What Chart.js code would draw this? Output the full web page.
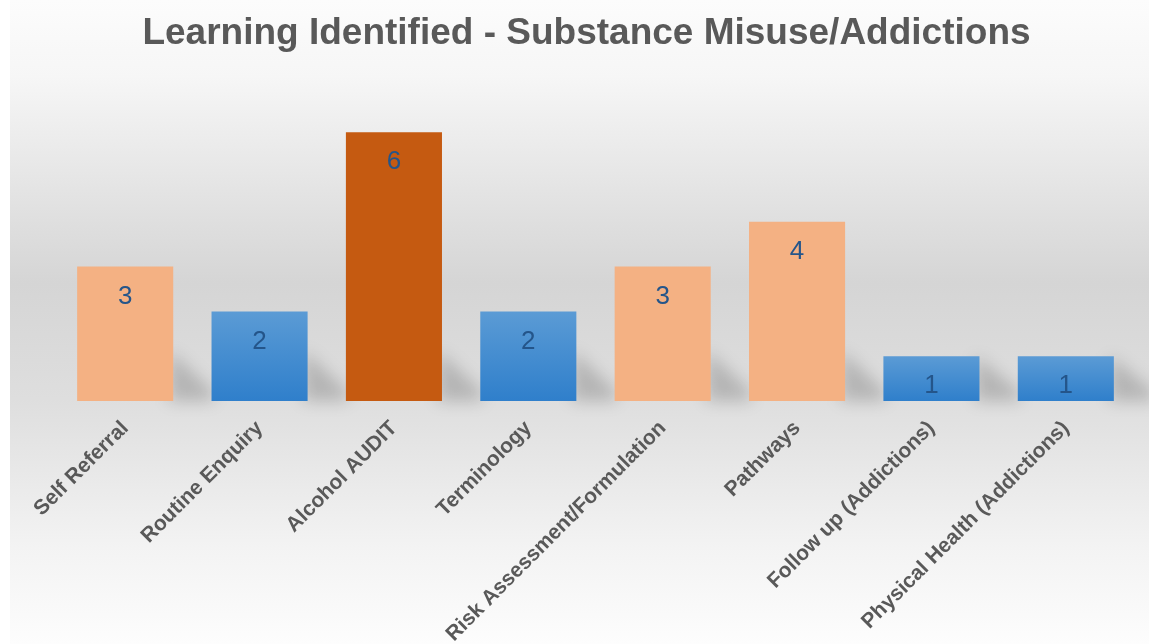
<!DOCTYPE html>
<html>
<head>
<meta charset="utf-8">
<script src="https://cdn.jsdelivr.net/npm/chart.js@4/dist/chart.umd.min.js"></script>
<style>
  html, body { margin: 0; padding: 0; background: #ffffff; }
  #wrap { position: relative; width: 1149px; height: 644px; }
</style>
</head>
<body>
<div id="wrap"><canvas id="grafica"></canvas></div>
<script>
const categorias = ['Self Referral', 'Routine Enquiry', 'Alcohol AUDIT', 'Terminology',
  'Risk Assessment/Formulation', 'Pathways', 'Follow up (Addictions)', 'Physical Health (Addictions)'];
const valores = [3, 2, 6, 2, 3, 4, 1, 1];
// tipo de color de cada barra: p = melocoton, a = azul, o = naranja oscuro
const tipos = ['p', 'a', 'o', 'a', 'p', 'p', 'a', 'a'];

const fondoPlugin = {
  id: 'fondo',
  beforeDraw(chart) {
    const ctx = chart.ctx;
    const h = chart.height;
    const g = ctx.createLinearGradient(0, 0, 0, h);
    g.addColorStop(0, '#fcfcfc');
    g.addColorStop(0.12, '#f6f6f6');
    g.addColorStop(0.44, '#d5d5d5');
    g.addColorStop(0.62, '#dedede');
    g.addColorStop(0.85, '#f3f3f3');
    g.addColorStop(1, '#fdfdfd');
    ctx.save();
    ctx.fillStyle = g;
    ctx.fillRect(10, 0, chart.width - 10, h);
    ctx.restore();
  }
};

const sombraPlugin = {
  id: 'sombra',
  beforeDatasetsDraw(chart) {
    const ctx = chart.ctx;
    const meta = chart.getDatasetMeta(0);
    ctx.save();
    ctx.filter = 'blur(8px)';
    ctx.fillStyle = 'rgba(0,0,0,0.18)';
    meta.data.forEach(bar => {
      const der = bar.x + bar.width / 2;
      const alto = Math.min(bar.base - bar.y, 50);
      ctx.beginPath();
      ctx.moveTo(der - 4, bar.base);
      ctx.lineTo(der - 4, bar.base - alto);
      ctx.lineTo(der + 40, bar.base - 10);
      ctx.lineTo(der + 40, bar.base);
      ctx.closePath();
      ctx.fill();
    });
    ctx.restore();
  }
};

const etiquetasPlugin = {
  id: 'etiquetas',
  afterDatasetsDraw(chart) {
    const ctx = chart.ctx;
    const meta = chart.getDatasetMeta(0);
    ctx.save();
    ctx.font = '26px "Liberation Sans", Arial, sans-serif';
    ctx.fillStyle = '#24558a';
    ctx.textAlign = 'center';
    ctx.textBaseline = 'middle';
    meta.data.forEach((bar, i) => {
      ctx.fillText(String(valores[i]), bar.x, bar.y + 30);
    });
    ctx.restore();
  }
};

function colorBarra(context) {
  const i = context.dataIndex;
  const t = tipos[i];
  if (t === 'p') return '#f4b183';
  if (t === 'o') return '#c55a11';
  const chart = context.chart;
  const y = chart.scales.y;
  if (!y || !chart.chartArea) return '#4a90d4';
  const top = y.getPixelForValue(valores[i]);
  const base = y.getPixelForValue(0);
  const g = chart.ctx.createLinearGradient(0, top, 0, base);
  g.addColorStop(0, '#5b9bd5');
  g.addColorStop(1, '#2f7fcb');
  return g;
}

const canvas = document.getElementById('grafica');
const ctx = canvas.getContext('2d');
const miGrafica = new Chart(ctx, {
  type: 'bar',
  data: {
    labels: categorias,
    datasets: [{
      data: valores,
      backgroundColor: colorBarra,
      borderWidth: 0,
      categoryPercentage: 1,
      barPercentage: 0.715
    }]
  },
  options: {
    responsive: true,
    maintainAspectRatio: false,
    animation: false,
    layout: { padding: { left: 40, right: 16, top: 12, bottom: 0 } },
    plugins: {
      legend: { display: false },
      tooltip: { enabled: false },
      title: {
        display: true,
        text: 'Learning Identified - Substance Misuse/Addictions',
        color: '#595959',
        font: { family: '"Liberation Sans", Arial, sans-serif', size: 37, weight: 'bold' },
        padding: { top: 0, bottom: 31 }
      }
    },
    scales: {
      x: {
        grid: { display: false, drawTicks: false },
        border: { display: false },
        ticks: {
          color: '#595959',
          font: { family: '"Liberation Sans", Arial, sans-serif', size: 21, weight: 'bold' },
          minRotation: 45,
          maxRotation: 45,
          autoSkip: false,
          padding: 15
        },
        afterFit(scale) {
          scale.paddingLeft = 58;
          scale.paddingRight = 0;
          scale.height = 243;
        }
      },
      y: {
        display: false,
        min: 0,
        max: 7
      }
    }
  },
  plugins: [fondoPlugin, sombraPlugin, etiquetasPlugin]
});
</script>
</body>
</html>
